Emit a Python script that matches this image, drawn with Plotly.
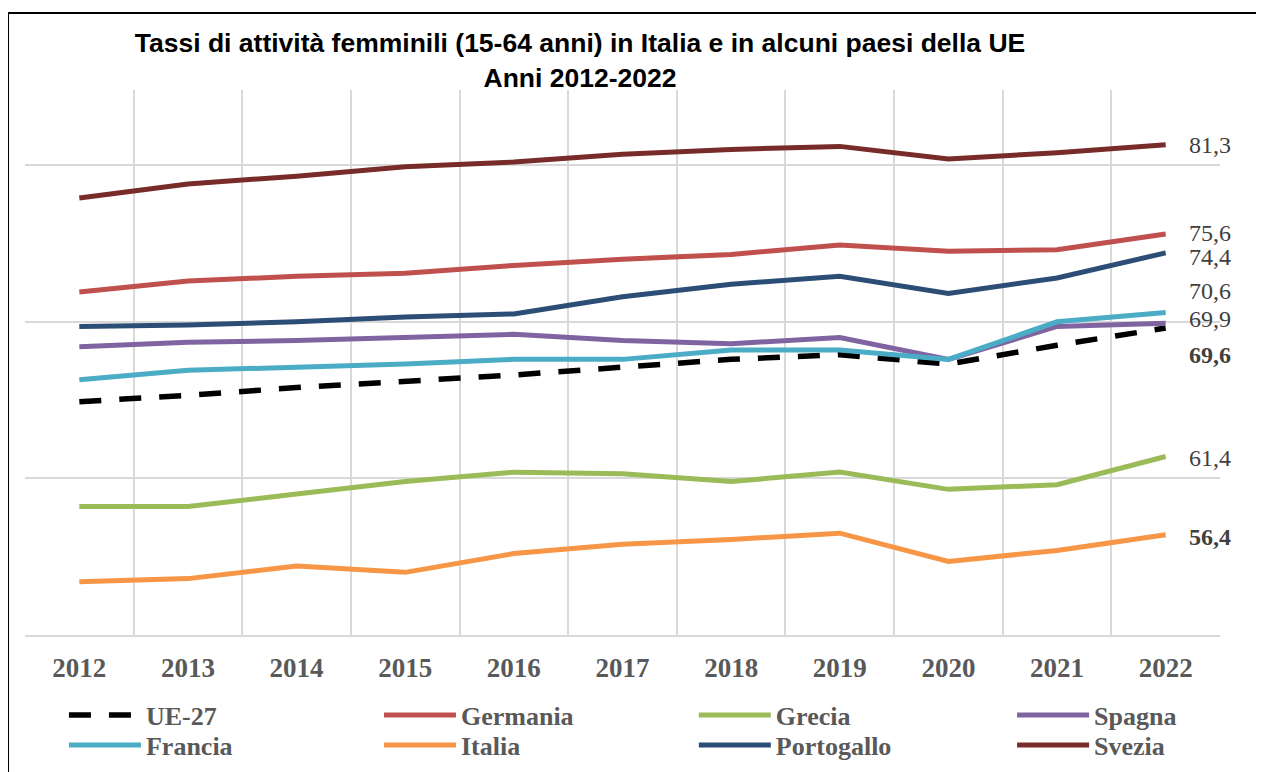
import plotly.graph_objects as go

anni = ['2012', '2013', '2014', '2015', '2016', '2017', '2018', '2019', '2020', '2021', '2022']

ue27 = [64.9, 65.3, 65.8, 66.2, 66.6, 67.1, 67.6, 67.9, 67.3, 68.5, 69.6]
germania = [71.9, 72.6, 72.9, 73.1, 73.6, 74.0, 74.3, 74.9, 74.5, 74.6, 75.6]
grecia = [58.2, 58.2, 59.0, 59.8, 60.4, 60.3, 59.8, 60.4, 59.3, 59.6, 61.4]
spagna = [68.4, 68.7, 68.8, 69.0, 69.2, 68.8, 68.6, 69.0, 67.6, 69.7, 69.9]
francia = [66.3, 66.9, 67.1, 67.3, 67.6, 67.6, 68.2, 68.2, 67.6, 70.0, 70.6]
italia = [53.4, 53.6, 54.4, 54.0, 55.2, 55.8, 56.1, 56.5, 54.7, 55.4, 56.4]
portogallo = [69.7, 69.8, 70.0, 70.3, 70.5, 71.6, 72.4, 72.9, 71.8, 72.8, 74.4]
svezia = [77.9, 78.8, 79.3, 79.9, 80.2, 80.7, 81.0, 81.2, 80.4, 80.8, 81.3]

serie = [
    ('UE-27', ue27, '#000000'),
    ('Germania', germania, '#C0504D'),
    ('Grecia', grecia, '#9BBB59'),
    ('Spagna', spagna, '#8064A2'),
    ('Francia', francia, '#4BACC6'),
    ('Italia', italia, '#F79646'),
    ('Portogallo', portogallo, '#2C4D75'),
    ('Svezia', svezia, '#772C2A'),
]

# legend grid: 4 columns x 2 rows, one small legend per entry
col_x = [0.0326, 0.2962, 0.5597, 0.826]
row_y = [-0.1468, -0.2018]

fig = go.Figure()
legend_layout = {}
for i, (nome, valori, colore) in enumerate(serie):
    dash = '22px,18px' if nome == 'UE-27' else 'solid'
    lg = 'legend' if i == 0 else 'legend%d' % (i + 1)
    fig.add_trace(go.Scatter(
        x=anni, y=valori, name=nome, mode='lines', legend=lg,
        line=dict(color=colore, width=5.5 if nome == 'UE-27' else 5, dash=dash),
    ))
    legend_layout[lg] = dict(
        x=col_x[i % 4], y=row_y[i // 4], xanchor='left', yanchor='middle',
        bgcolor='rgba(0,0,0,0)', itemwidth=72,
        font=dict(family='Liberation Serif', size=26, color='#595959', weight='bold'),
    )

# end labels: (series, text, bold, vertical shift)
etichette = [
    (svezia, '81,3', False, 0),
    (germania, '75,6', False, 1),
    (portogallo, '74,4', False, -4),
    (francia, '70,6', False, 21),
    (spagna, '69,9', False, 4),
    (ue27, '69,6', True, -27),
    (grecia, '61,4', False, -2),
    (italia, '56,4', True, -2),
]
ultimo = len(anni) - 1  # category index of the last year
for valori, testo, bold, ys in etichette:
    fig.add_annotation(
        x=ultimo, y=valori[-1], text='<b>' + testo + '</b>' if bold else testo,
        showarrow=False, xanchor='left', xshift=21, yshift=ys,
        font=dict(family='Liberation Serif', size=24, color='#404040'),
    )

# frame lines (top and left)
fig.add_shape(type='line', xref='paper', yref='paper', x0=-0.0142, x1=1.04, y0=1.1413, y1=1.1413,
              line=dict(color='black', width=2))
fig.add_shape(type='line', xref='paper', yref='paper', x0=-0.0142, x1=-0.0142, y0=1.1413, y1=-0.26,
              line=dict(color='black', width=2))

fig.update_layout(
    width=1256, height=764,
    paper_bgcolor='white', plot_bgcolor='white',
    margin=dict(l=17, r=44, t=82, b=137, autoexpand=False),
    showlegend=True,
    title=dict(
        text='Tassi di attività femminili (15-64 anni) in Italia e in alcuni paesi della UE<br>Anni 2012-2022',
        x=572 / 1256, xanchor='center', xref='container', y=0.942, yanchor='top',
        font=dict(family='Liberation Sans', size=26.5, color='black', weight='bold'),
    ),
    xaxis=dict(
        type='category', tickson='boundaries', showgrid=True, gridcolor='#D9D9D9', gridwidth=2,
        showline=True, linecolor='#D9D9D9', linewidth=2, ticks='', ticklabelstandoff=8,
        tickfont=dict(family='Liberation Serif', size=27, color='#595959', weight='bold'),
        range=[-0.5, 10.5], zeroline=False,
    ),
    yaxis=dict(
        range=[50, 84.8], dtick=10, tick0=50, showgrid=True, gridcolor='#D9D9D9', gridwidth=2,
        showticklabels=False, zeroline=False, showline=False,
    ),
    **legend_layout,
)

fig.write_html('out.html')
